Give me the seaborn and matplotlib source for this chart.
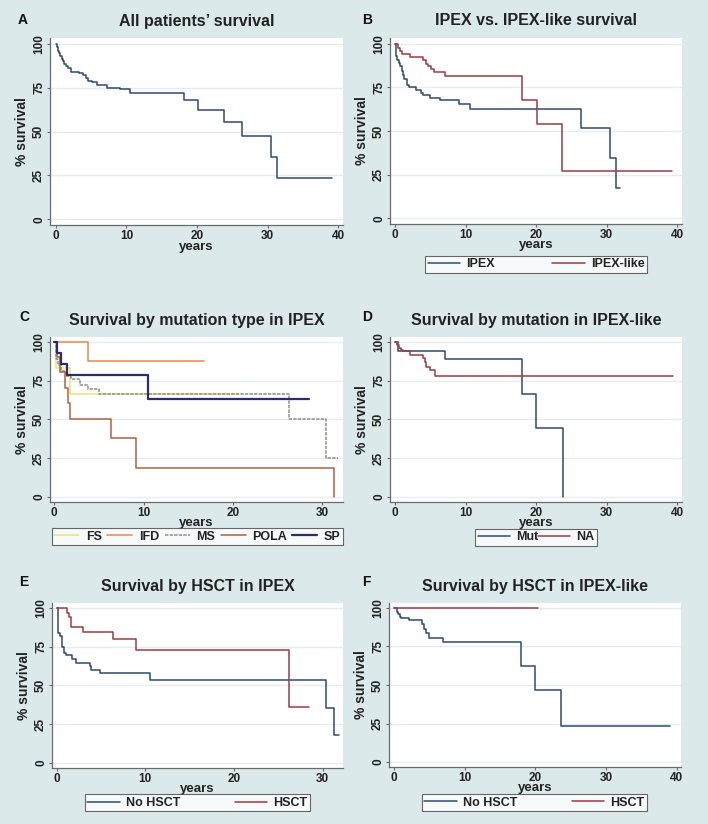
import matplotlib
matplotlib.use("Agg")
import matplotlib.pyplot as plt
import seaborn as sns
import pandas as pd

# ---------------- data ----------------
# Panel A: all patients
a_time = [0, 0.15, 0.3, 0.45, 0.6, 0.8, 1.0, 1.2, 1.4, 1.7, 2.1, 3.3, 3.9, 4.2, 4.6, 5.1, 5.8, 7.2, 9.1, 10.5,
          18.1, 20.1, 23.8, 26.4, 30.5, 31.4, 39.2]
a_surv = [100, 98, 96, 94.5, 93, 91.5, 90, 88.5, 87.5, 86, 84, 83.4, 82, 80.3, 79, 78.4, 76.5, 75, 74, 71.8,
          67.9, 62.2, 55.2, 47.4, 35.7, 23.7, 23.7]

# Panel B: IPEX vs IPEX-like
b_ipex_time = [0, 0.15, 0.3, 0.5, 0.7, 0.9, 1.1, 1.3, 1.6, 2.0, 3.0, 3.7, 3.9, 5.0, 6.4, 9.0, 10.6, 26.35, 30.5, 31.4, 31.9]
b_ipex_surv = [100, 93, 90.7, 88.8, 87, 84.5, 82, 79.5, 76.4, 75, 73.5, 71.8, 70.4, 69.1, 67.6, 65.4, 62.5, 51.8, 34.5, 17.3, 17.3]
b_like_time = [0, 0.45, 0.7, 1.0, 2.1, 4.0, 4.3, 4.6, 5.1, 5.5, 7.0, 18.06, 20.1, 23.7, 39.3]
b_like_surv = [100, 97.5, 95.5, 93.8, 92.5, 90.5, 88.5, 86.9, 85.6, 84, 81.5, 67.9, 54.2, 27.2, 27.2]

# Panel C: by mutation type in IPEX
c_fs_time = [0, 0.2, 1.75, 20.7]
c_fs_surv = [100, 83.3, 66.7, 66.7]
c_ifd_time = [0, 3.8, 16.8]
c_ifd_surv = [100, 87.5, 87.5]
c_ms_time = [0, 0.15, 0.4, 0.8, 1.3, 1.9, 2.9, 3.8, 5.0, 26.3, 30.4, 31.8]
c_ms_surv = [100, 88.9, 85.2, 81.5, 77.8, 75.9, 72.5, 69.5, 66.7, 50, 25, 25]
c_pola_time = [0, 0.3, 0.6, 1.2, 1.56, 1.75, 6.3, 9.1, 31.3]
c_pola_surv = [100, 90, 80.5, 70.5, 60.5, 50.5, 37.8, 19, 0]
c_sp_time = [0, 0.25, 0.8, 1.45, 10.5, 28.5]
c_sp_surv = [100, 92.9, 85.7, 78.6, 62.9, 62.9]

# Panel D: by mutation in IPEX-like
d_mut_time = [0, 0.4, 7.0, 18.06, 20.05, 23.8]
d_mut_surv = [100, 94.4, 88.9, 66.7, 44.4, 0]
d_na_time = [0, 0.3, 0.55, 0.8, 1.1, 2.1, 4.0, 4.2, 4.4, 4.9, 5.6, 39.4]
d_na_surv = [100, 98, 96.3, 94.8, 94, 91.8, 89.4, 86.9, 84.1, 81.9, 78, 78]

# Panel E: by HSCT in IPEX
e_no_time = [0, 0.1, 0.4, 0.55, 0.65, 0.8, 1.1, 1.7, 2.2, 3.75, 3.9, 4.9, 10.5, 30.4, 31.3, 31.8]
e_no_surv = [100, 83.6, 82, 79.3, 75, 71, 69.5, 67, 64.6, 62.5, 59.9, 57.8, 53.3, 35.5, 17.8, 17.8]
e_hsct_time = [0, 1.15, 1.4, 1.6, 3.0, 6.3, 8.95, 26.2, 28.5]
e_hsct_surv = [100, 97, 93.9, 87.9, 84.2, 80.2, 72.7, 36.3, 36.3]

# Panel F: by HSCT in IPEX-like
f_no_time = [0, 0.4, 0.6, 0.9, 1.0, 2.1, 4.0, 4.2, 4.5, 5.0, 7.0, 17.95, 20.0, 23.7, 39.1]
f_no_surv = [100, 97.6, 95.9, 94.4, 93.5, 92, 89.6, 86.2, 83.6, 80.8, 78.2, 62.4, 46.7, 23.3, 23.3]
f_hsct_time = [0, 20.4]
f_hsct_surv = [100, 100]

titles = ["All patients\u2019 survival", "IPEX vs. IPEX-like survival", "Survival by mutation type in IPEX",
          "Survival by mutation in IPEX-like", "Survival by HSCT in IPEX", "Survival by HSCT in IPEX-like"]
letters = ["A", "B", "C", "D", "E", "F"]
y_ticks = [0, 25, 50, 75, 100]
x_ticks_40 = [0, 10, 20, 30, 40]
x_ticks_30 = [0, 10, 20, 30]

# ---------------- style ----------------
sns.set_style("white")
plt.rcParams["font.family"] = ["Liberation Sans", "DejaVu Sans"]
BG = "#dce9eb"
NAVY = "#2f4a70"
MAROON = "#9c3b42"
TXT = "#222222"

fig = plt.figure(figsize=(7.08, 8.24), dpi=100, facecolor=BG)

# axes rectangles [left, bottom, width, height] (figure fraction)
rects = [
    [0.0706, 0.7269, 0.4138, 0.2269],
    [0.5508, 0.7282, 0.4124, 0.2257],
    [0.0706, 0.3908, 0.4138, 0.2002],
    [0.5508, 0.3908, 0.4124, 0.2002],
    [0.0734, 0.0680, 0.4110, 0.2002],
    [0.5494, 0.0692, 0.4124, 0.1990],
]
xlims = [(-0.85, 40.7), (-0.75, 40.7), (-0.48, 32.3), (-0.75, 40.7), (-0.53, 32.3), (-0.7, 40.6)]
xpads = [-1.0, -1.0, -1.2, -1.2, -1.2, -1.2]


def km(ax, t, s, color, label=None, lw=1.1, ls="-"):
    df = pd.DataFrame({"years": t, "surv": s})
    sns.lineplot(data=df, x="years", y="surv", ax=ax, color=color, lw=lw, linestyle=ls,
                 drawstyle="steps-post", estimator=None, sort=False, label=label, legend=False)


axes = []
for i, r in enumerate(rects):
    ax = fig.add_axes(r)
    ax.set_facecolor("white")
    axes.append(ax)

km(axes[0], a_time, a_surv, NAVY)
km(axes[1], b_ipex_time, b_ipex_surv, NAVY, "IPEX")
km(axes[1], b_like_time, b_like_surv, MAROON, "IPEX-like")
km(axes[2], c_fs_time, c_fs_surv, "#ece27a", "FS")
km(axes[2], c_ifd_time, c_ifd_surv, "#e8894c", "IFD")
km(axes[2], c_ms_time, c_ms_surv, "#8d9283", "MS", ls=(0, (2.2, 0.8)))
km(axes[2], c_pola_time, c_pola_surv, "#b2603e", "POLA")
km(axes[2], c_sp_time, c_sp_surv, "#2a2c6c", "SP", lw=1.6)
km(axes[3], d_mut_time, d_mut_surv, NAVY, "Mut")
km(axes[3], d_na_time, d_na_surv, MAROON, "NA")
km(axes[4], e_no_time, e_no_surv, NAVY, "No HSCT")
km(axes[4], e_hsct_time, e_hsct_surv, MAROON, "HSCT")
km(axes[5], f_no_time, f_no_surv, NAVY, "No HSCT")
km(axes[5], f_hsct_time, f_hsct_surv, MAROON, "HSCT")

for i, ax in enumerate(axes):
    ax.set_xlim(*xlims[i])
    ax.set_ylim(-3.2, 103.2)
    ax.set_xticks(x_ticks_30 if i in (2, 4) else x_ticks_40)
    ax.set_yticks(y_ticks)
    ax.set_axisbelow(True)
    ax.yaxis.grid(True, color="#e4eef0", lw=1.0)
    ax.xaxis.grid(False)
    for sp in ("top", "right"):
        ax.spines[sp].set_visible(False)
    for sp in ("left", "bottom"):
        ax.spines[sp].set_color("#6a6a6a")
        ax.spines[sp].set_linewidth(0.9)
    ax.tick_params(axis="both", direction="out", length=2.5, width=0.8, color="#6a6a6a",
                   labelsize=8.5, labelcolor=TXT, pad=1, left=True, bottom=True)
    plt.setp(ax.get_yticklabels(), rotation=90, va="center", fontweight="bold")
    plt.setp(ax.get_xticklabels(), fontweight="bold")
    ax.set_xlabel("years", fontsize=9.5, fontweight="bold", color=TXT, labelpad=xpads[i])
    ax.set_ylabel("% survival", fontsize=10, fontweight="bold", color=TXT, labelpad=3)
    ax.set_title(titles[i], fontsize=11.5, fontweight="bold", color=TXT, pad=9)

# panel letters
letter_pos = [(23, 20), (367, 20), (24, 317), (367, 317), (24, 582), (366, 582)]
for (px, py), L in zip(letter_pos, letters):
    fig.text(px / 708, 1 - py / 824, L, fontsize=10, fontweight="bold", color="#111111",
             ha="center", va="center")

# legends (figure-fraction boxes)
leg_boxes = {1: (0.6003, 0.6687, 0.3136, 0.0218),
             2: (0.0734, 0.3398, 0.4110, 0.0182),
             3: (0.6710, 0.3386, 0.1723, 0.0194),
             4: (0.1200, 0.0170, 0.3178, 0.0170),
             5: (0.5960, 0.0170, 0.3180, 0.0180)}
for i, box in leg_boxes.items():
    ax = axes[i]
    handles, labels = ax.get_legend_handles_labels()
    hl = 2.0 if i == 2 else 2.6
    leg = ax.legend(handles, labels, ncol=len(labels), loc="center", mode="expand",
                    bbox_to_anchor=box, bbox_transform=fig.transFigure,
                    frameon=True, fancybox=False, borderpad=0.2, handlelength=hl,
                    handletextpad=0.5, columnspacing=1.0, borderaxespad=0,
                    prop={"size": 9, "weight": "bold"})
    leg.get_frame().set_edgecolor("#444444")
    leg.get_frame().set_linewidth(0.8)
    leg.get_frame().set_facecolor("white")
    for txt in leg.get_texts():
        txt.set_color(TXT)

fig.savefig("out.png", dpi=100, facecolor=BG)
